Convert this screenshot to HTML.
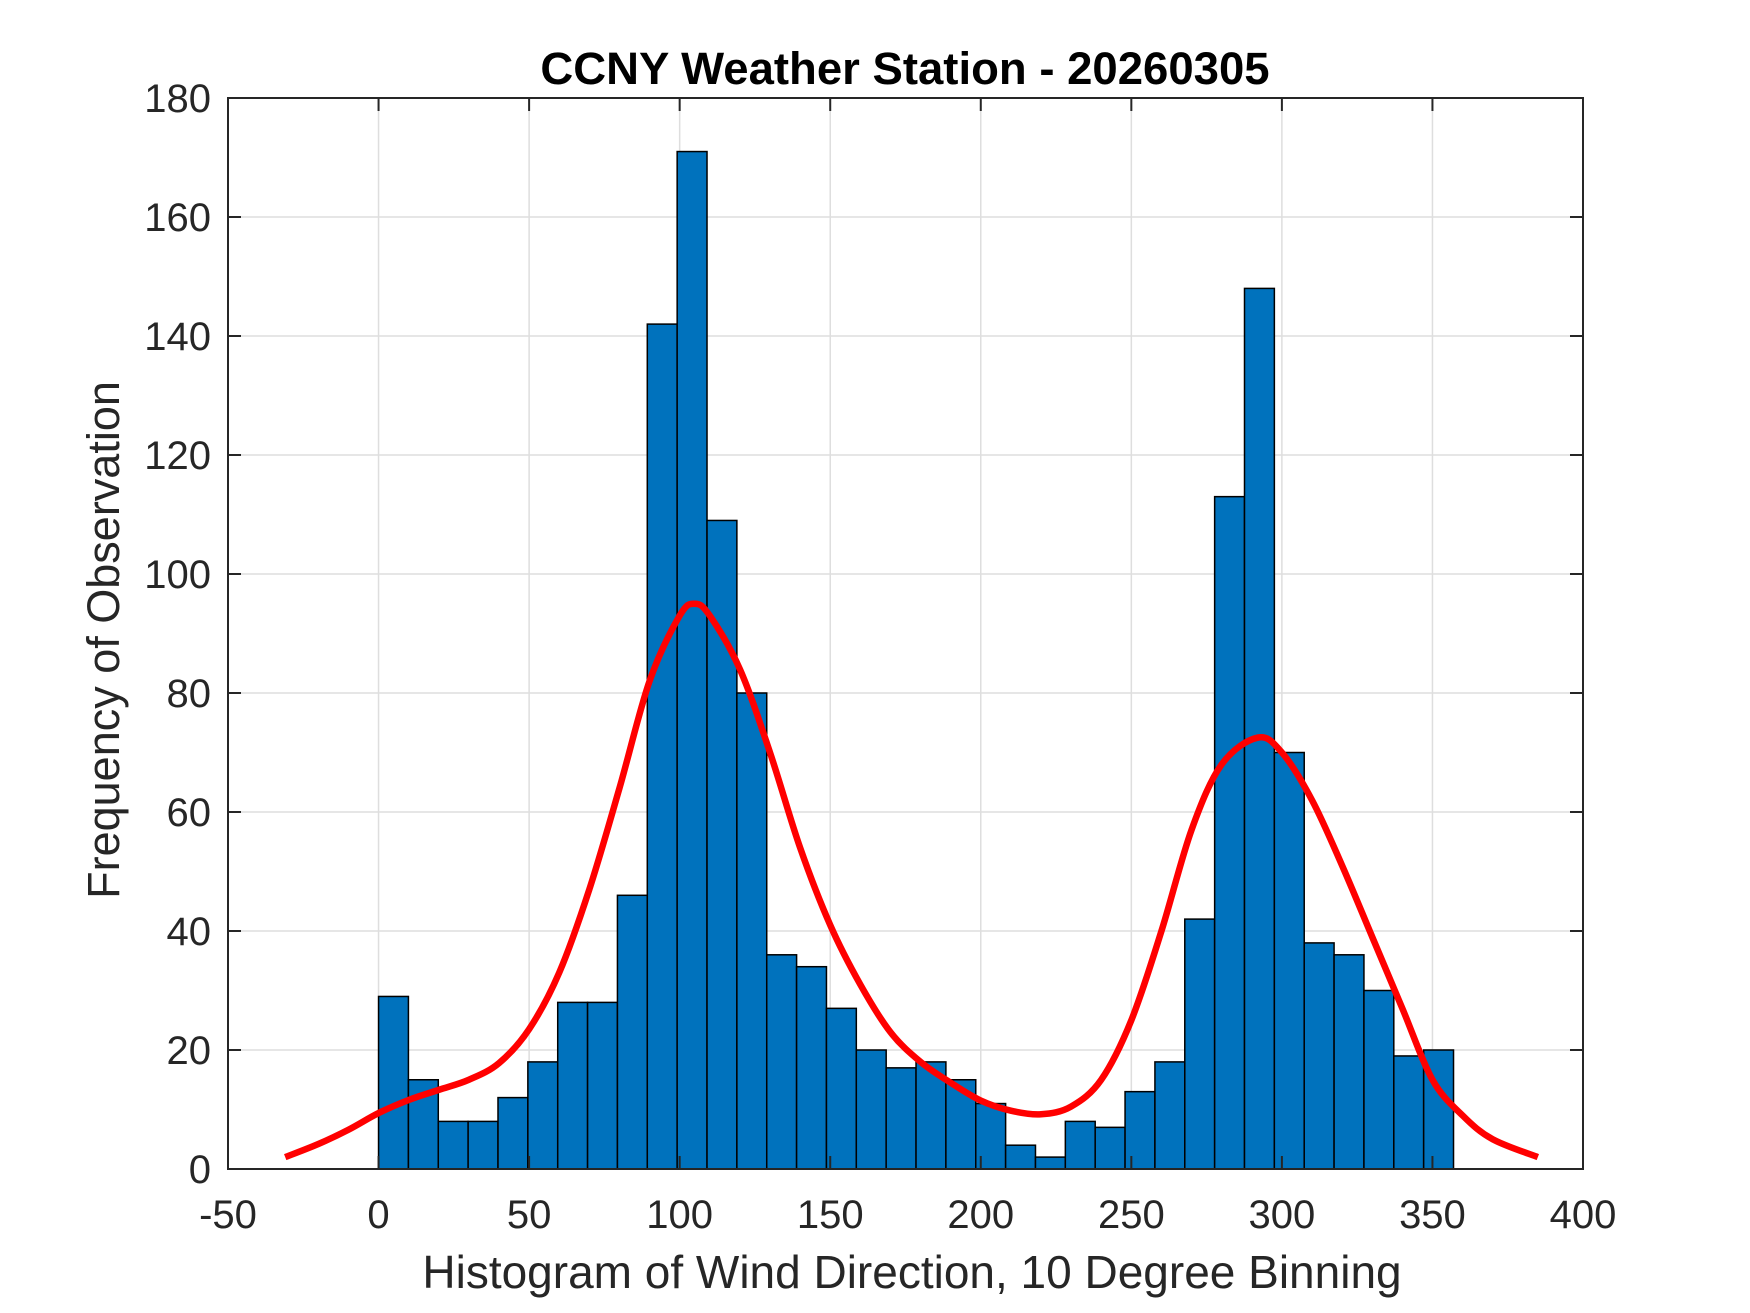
<!DOCTYPE html>
<html><head><meta charset="utf-8"><style>
html,body{margin:0;padding:0;background:#fff;}
svg{display:block;font-family:"Liberation Sans",Arial,sans-serif;}
</style></head><body>
<svg id="chart" width="1750" height="1313" viewBox="0 0 1750 1313">
<rect width="1750" height="1313" fill="#fff"/>
<g id="grid"></g>
<g id="bars"></g>
<path id="curve" fill="none" stroke="#ff0000" stroke-width="6.5" stroke-linejoin="round" stroke-linecap="butt"/>
<g id="axes"></g>
<text x="905" y="84" text-anchor="middle" font-size="45.5" font-weight="bold" fill="#000">CCNY Weather Station - 20260305</text>
<text x="912" y="1288" text-anchor="middle" font-size="46" fill="#262626">Histogram of Wind Direction, 10 Degree Binning</text>
<text transform="translate(119,640) rotate(-90)" text-anchor="middle" font-size="45" fill="#262626">Frequency of Observation</text>
</svg>
<script>
const counts = [29,15,8,8,12,18,28,28,46,142,171,109,80,36,34,27,20,17,18,15,11,4,2,8,7,13,18,42,113,148,70,38,36,30,19,20];
const binStart = 0;
const binEnd = 357;
const curveX = [-31,-20,-10,0,10,20,30,40,50,60,70,80,90,100,105,110,120,130,140,150,160,170,180,190,200,210,220,230,240,250,260,270,280,292,300,310,320,330,340,350,360,370,385];
const curveY = [2,4.2,6.6,9.4,11.6,13.3,15,17.8,23.5,33,47,64,82,93,95,93,84,70,54,41,31,23,18,14.5,11.5,9.8,9.2,10.5,15,25,40,57,68,72.5,70,62,51,39,27,15,9,5,2];
const xTicks = [-50,0,50,100,150,200,250,300,350,400];
const yTicks = [0,20,40,60,80,100,120,140,160,180];

const L=228,R=1583,T=98,B=1169;
const xMin=-50,xMax=400,yMin=0,yMax=180;
function sx(v){return L+(v-xMin)/(xMax-xMin)*(R-L);}
function sy(v){return B-(v-yMin)/(yMax-yMin)*(B-T);}
const NS='http://www.w3.org/2000/svg';
function mk(tag,attrs,parent){const e=document.createElementNS(NS,tag);for(const k in attrs)e.setAttribute(k,attrs[k]);parent.appendChild(e);return e;}
const grid=document.getElementById('grid'),bars=document.getElementById('bars'),axes=document.getElementById('axes');

xTicks.forEach(t=>{
  const l=mk('line',{x1:sx(t),x2:sx(t),y1:T,y2:B,stroke:'#dedede','stroke-width':1.5},grid);
  
  
});
yTicks.forEach(t=>{
  const l=mk('line',{x1:L,x2:R,y1:sy(t),y2:sy(t),stroke:'#dedede','stroke-width':1.5},grid);
  
  
});

const w=(binEnd-binStart)/counts.length;
counts.forEach((c,i)=>{
  const x0=sx(binStart+i*w),x1=sx(binStart+(i+1)*w);
  const r=mk('rect',{x:x0,y:sy(c),width:x1-x0,height:sy(0)-sy(c),fill:'#0072bd',stroke:'#000','stroke-width':1.5},bars);
  
  
});

const pts=curveX.map((x,i)=>[sx(x),sy(curveY[i])]);
let d='M'+pts[0][0]+','+pts[0][1];
for(let i=0;i<pts.length-1;i++){
  const p0=pts[Math.max(0,i-1)],p1=pts[i],p2=pts[i+1],p3=pts[Math.min(pts.length-1,i+2)];
  const c1=[p1[0]+(p2[0]-p0[0])/6,p1[1]+(p2[1]-p0[1])/6];
  const c2=[p2[0]-(p3[0]-p1[0])/6,p2[1]-(p3[1]-p1[1])/6];
  d+=' C'+c1[0]+','+c1[1]+' '+c2[0]+','+c2[1]+' '+p2[0]+','+p2[1];
}
document.getElementById('curve').setAttribute('d',d);

const box=mk('rect',{x:L,y:T,width:R-L,height:B-T,fill:'none',stroke:'#262626','stroke-width':2},axes);


xTicks.forEach(t=>{
  mk('line',{x1:sx(t),x2:sx(t),y1:B,y2:B-13,stroke:'#262626','stroke-width':2},axes);
  mk('line',{x1:sx(t),x2:sx(t),y1:T,y2:T+13,stroke:'#262626','stroke-width':2},axes);
  const tx=mk('text',{x:sx(t),y:1228,'text-anchor':'middle','font-size':40,fill:'#262626'},axes);
  tx.textContent=t;
  
  
});
yTicks.forEach(t=>{
  mk('line',{x1:L,x2:L+13,y1:sy(t),y2:sy(t),stroke:'#262626','stroke-width':2},axes);
  mk('line',{x1:R,x2:R-13,y1:sy(t),y2:sy(t),stroke:'#262626','stroke-width':2},axes);
  const tx=mk('text',{x:211,y:sy(t)+14,'text-anchor':'end','font-size':40,fill:'#262626'},axes);
  tx.textContent=t;
  
  
});
</script>
</body></html>
